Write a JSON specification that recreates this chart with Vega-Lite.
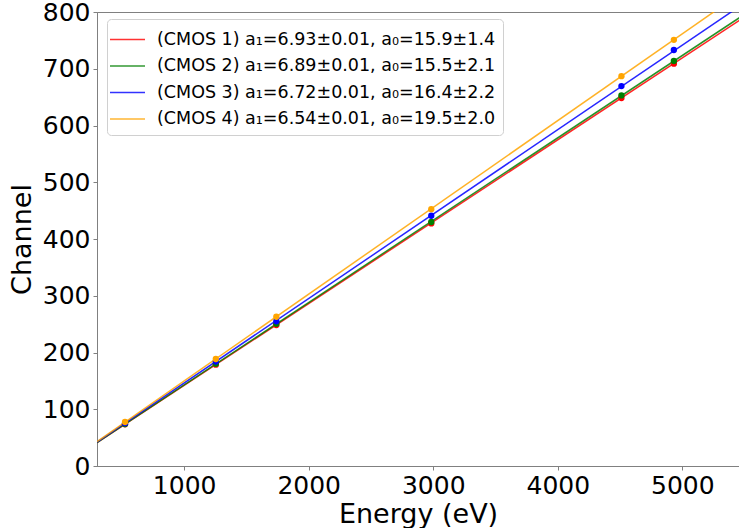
{
  "$schema": "https://vega.github.io/schema/vega-lite/v6.json",
  "autosize": "none",
  "padding": {"left": 97, "top": 12, "right": 0, "bottom": 62},
  "width": 642,
  "height": 454,
  "config": {
    "font": "DejaVu Sans",
    "view": {"stroke": "#808080", "strokeWidth": 1},
    "axis": {
      "grid": false,
      "domainColor": "#808080",
      "domainWidth": 1,
      "tickColor": "#808080",
      "tickSize": 4,
      "labelFont": "DejaVu Sans",
      "labelFontSize": 25,
      "labelColor": "black",
      "labelPadding": 3,
      "titleFont": "DejaVu Sans",
      "titleFontSize": 27,
      "titleFontWeight": "normal",
      "titleColor": "black"
    }
  },
  "datasets": {
    "lines": [
      {"series": "(CMOS 1) a₁=6.93±0.01, a₀=15.9±1.4", "energy": 300, "channel": 41.0},
      {"series": "(CMOS 1) a₁=6.93±0.01, a₀=15.9±1.4", "energy": 5600, "channel": 805.8},
      {"series": "(CMOS 2) a₁=6.89±0.01, a₀=15.5±2.1", "energy": 300, "channel": 41.3},
      {"series": "(CMOS 2) a₁=6.89±0.01, a₀=15.5±2.1", "energy": 5600, "channel": 810.5},
      {"series": "(CMOS 3) a₁=6.72±0.01, a₀=16.4±2.2", "energy": 300, "channel": 42.2},
      {"series": "(CMOS 3) a₁=6.72±0.01, a₀=16.4±2.2", "energy": 5600, "channel": 830.9},
      {"series": "(CMOS 4) a₁=6.54±0.01, a₀=19.5±2.0", "energy": 300, "channel": 42.9},
      {"series": "(CMOS 4) a₁=6.54±0.01, a₀=19.5±2.0", "energy": 5600, "channel": 853.3}
    ],
    "points": [
      {"series": "(CMOS 1) a₁=6.93±0.01, a₀=15.9±1.4", "energy": 525, "channel": 73.4},
      {"series": "(CMOS 1) a₁=6.93±0.01, a₀=15.9±1.4", "energy": 1254, "channel": 178.5},
      {"series": "(CMOS 1) a₁=6.93±0.01, a₀=15.9±1.4", "energy": 1740, "channel": 248.5},
      {"series": "(CMOS 1) a₁=6.93±0.01, a₀=15.9±1.4", "energy": 2984, "channel": 427.5},
      {"series": "(CMOS 1) a₁=6.93±0.01, a₀=15.9±1.4", "energy": 4511, "channel": 648.5},
      {"series": "(CMOS 1) a₁=6.93±0.01, a₀=15.9±1.4", "energy": 4932, "channel": 709},
      {"series": "(CMOS 2) a₁=6.89±0.01, a₀=15.5±2.1", "energy": 525, "channel": 74},
      {"series": "(CMOS 2) a₁=6.89±0.01, a₀=15.5±2.1", "energy": 1254, "channel": 180},
      {"series": "(CMOS 2) a₁=6.89±0.01, a₀=15.5±2.1", "energy": 1740, "channel": 250.5},
      {"series": "(CMOS 2) a₁=6.89±0.01, a₀=15.5±2.1", "energy": 2984, "channel": 430},
      {"series": "(CMOS 2) a₁=6.89±0.01, a₀=15.5±2.1", "energy": 4511, "channel": 653},
      {"series": "(CMOS 2) a₁=6.89±0.01, a₀=15.5±2.1", "energy": 4932, "channel": 713.8},
      {"series": "(CMOS 3) a₁=6.72±0.01, a₀=16.4±2.2", "energy": 525, "channel": 75.5},
      {"series": "(CMOS 3) a₁=6.72±0.01, a₀=16.4±2.2", "energy": 1254, "channel": 184},
      {"series": "(CMOS 3) a₁=6.72±0.01, a₀=16.4±2.2", "energy": 1740, "channel": 255},
      {"series": "(CMOS 3) a₁=6.72±0.01, a₀=16.4±2.2", "energy": 2984, "channel": 441},
      {"series": "(CMOS 3) a₁=6.72±0.01, a₀=16.4±2.2", "energy": 4511, "channel": 669.5},
      {"series": "(CMOS 3) a₁=6.72±0.01, a₀=16.4±2.2", "energy": 4932, "channel": 733},
      {"series": "(CMOS 4) a₁=6.54±0.01, a₀=19.5±2.0", "energy": 525, "channel": 77.5},
      {"series": "(CMOS 4) a₁=6.54±0.01, a₀=19.5±2.0", "energy": 1254, "channel": 188.5},
      {"series": "(CMOS 4) a₁=6.54±0.01, a₀=19.5±2.0", "energy": 1740, "channel": 263},
      {"series": "(CMOS 4) a₁=6.54±0.01, a₀=19.5±2.0", "energy": 2984, "channel": 452.5},
      {"series": "(CMOS 4) a₁=6.54±0.01, a₀=19.5±2.0", "energy": 4511, "channel": 687},
      {"series": "(CMOS 4) a₁=6.54±0.01, a₀=19.5±2.0", "energy": 4932, "channel": 751}
    ]
  },
  "encoding": {
    "x": {
      "field": "energy", "type": "quantitative",
      "scale": {"domain": [300, 5455], "nice": false, "zero": false},
      "axis": {"values": [1000, 2000, 3000, 4000, 5000], "format": "d", "title": "Energy (eV)", "titlePadding": 3}
    },
    "y": {
      "field": "channel", "type": "quantitative",
      "scale": {"domain": [0, 800], "nice": false},
      "axis": {"values": [0, 100, 200, 300, 400, 500, 600, 700, 800], "format": "d", "title": "Channel", "titlePadding": 6}
    },
    "color": {
      "field": "series", "type": "nominal",
      "scale": {
        "domain": [
          "(CMOS 1) a₁=6.93±0.01, a₀=15.9±1.4",
          "(CMOS 2) a₁=6.89±0.01, a₀=15.5±2.1",
          "(CMOS 3) a₁=6.72±0.01, a₀=16.4±2.2",
          "(CMOS 4) a₁=6.54±0.01, a₀=19.5±2.0"
        ],
        "range": ["red", "green", "blue", "orange"]
      },
      "legend": {
        "title": null,
        "orient": "none",
        "legendX": 10,
        "legendY": 7,
        "symbolType": "M-1.4,0H1.4",
        "symbolSize": 625,
        "symbolStrokeWidth": 1.5,
        "symbolOpacity": 0.8,
        "labelFont": "DejaVu Sans",
        "labelFontSize": 17.5,
        "labelColor": "black",
        "labelOffset": 16,
        "labelLimit": 500,
        "rowPadding": 4.5,
        "padding": 7,
        "fillColor": "white",
        "strokeColor": "#d0d0d0",
        "cornerRadius": 4
      }
    }
  },
  "layer": [
    {
      "data": {"name": "lines"},
      "mark": {"type": "line", "clip": true, "strokeWidth": 1.5, "opacity": 0.85},
      "encoding": {"detail": {"field": "series"}}
    },
    {
      "data": {"name": "points"},
      "mark": {"type": "circle", "size": 40, "opacity": 1, "clip": true},
      "encoding": {"color": {"field": "series", "type": "nominal", "legend": null}}
    }
  ]
}
